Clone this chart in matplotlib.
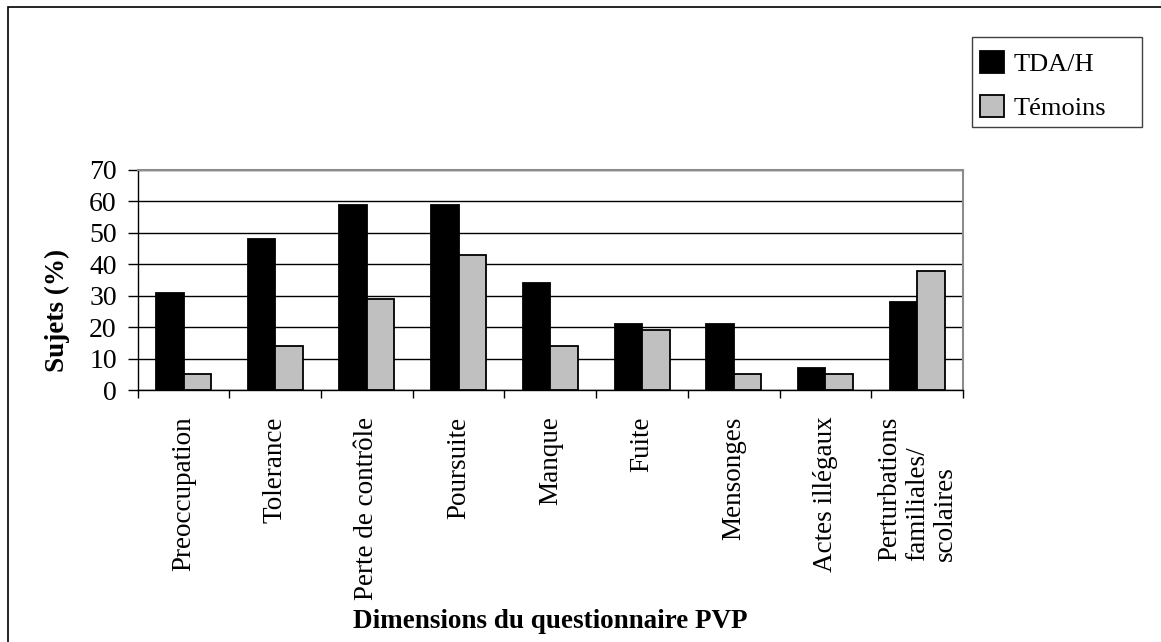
import matplotlib.pyplot as plt
import numpy as np
from matplotlib.patches import Rectangle
from matplotlib.ticker import FixedLocator

plt.rcParams['font.family'] = ['Liberation Serif', 'DejaVu Serif']

categories = ["Preoccupation", "Tolerance", "Perte de contrôle", "Poursuite",
              "Manque", "Fuite", "Mensonges", "Actes illégaux",
              "Perturbations\nfamiliales/\nscolaires"]
tdah = [31, 48, 59, 59, 34, 21, 21, 7, 28]
temoins = [5, 14, 29, 43, 14, 19, 5, 5, 38]
series_names = ["TDA/H", "Témoins"]
yticks = [0, 10, 20, 30, 40, 50, 60, 70]

W, H = 1161, 642
fig = plt.figure(figsize=(W / 100, H / 100), dpi=100)
ax = fig.add_axes([137.7 / W, 1 - 390 / H, (963 - 137.7) / W, 220 / H])

x = np.arange(len(categories))
bw = 0.3
ax.bar(x - bw / 2, tdah, bw, color="black", edgecolor="black", linewidth=1.3,
       label=series_names[0], zorder=3)
ax.bar(x + bw / 2, temoins, bw, color="#c0c0c0", edgecolor="black", linewidth=1.3,
       label=series_names[1], zorder=3)

ax.set_xlim(-0.5, len(categories) - 0.5)
ax.set_ylim(0, 70)
ax.set_yticks(yticks)
ax.tick_params(axis="y", labelsize=20, length=7, width=1, direction="out", pad=8)
ax.set_xticks(x)
ax.set_xticklabels(categories, rotation=90, fontsize=19.5, va="top", ha="center",
                   linespacing=1.15, multialignment="left")
ax.tick_params(axis="x", which="major", length=0, pad=19)
ax.xaxis.set_minor_locator(FixedLocator(np.arange(-0.5, len(categories), 1.0)))
ax.tick_params(axis="x", which="minor", length=6, width=1)

ax.grid(axis="y", color="black", linewidth=1, zorder=0)
for s in ["top", "right"]:
    ax.spines[s].set_color("#8c8c8c")
    ax.spines[s].set_linewidth(1.5)
for s in ["left", "bottom"]:
    ax.spines[s].set_color("black")
    ax.spines[s].set_linewidth(1)

fig.text(57 / W, 1 - 310 / H, "Sujets (%)", fontsize=19.5, fontweight="bold",
         rotation=90, ha="center", va="center")
fig.text(0.5 * (137.7 + 963) / W, 1 - 622 / H, "Dimensions du questionnaire PVP",
         fontsize=19.5, fontweight="bold", ha="center", va="center")

leg = fig.legend(loc="upper left", bbox_to_anchor=(972 / W, 1 - 43 / H),
                 bbox_transform=fig.transFigure, fontsize=19, frameon=False,
                 borderaxespad=0, handlelength=0.9, handleheight=0.9,
                 handletextpad=0.37, labelspacing=0.71, borderpad=0.3)
fig.add_artist(Rectangle((972 / W, 1 - 127 / H), 170 / W, 90 / H, transform=fig.transFigure,
                         fill=False, edgecolor="#404040", linewidth=1))

# outer chart border
fig.add_artist(Rectangle((8 / W, -0.1), 1.2, 1 - 7 / H + 0.1, transform=fig.transFigure,
                         fill=False, edgecolor="black", linewidth=1.2))

fig.savefig("out.png", dpi=100)
